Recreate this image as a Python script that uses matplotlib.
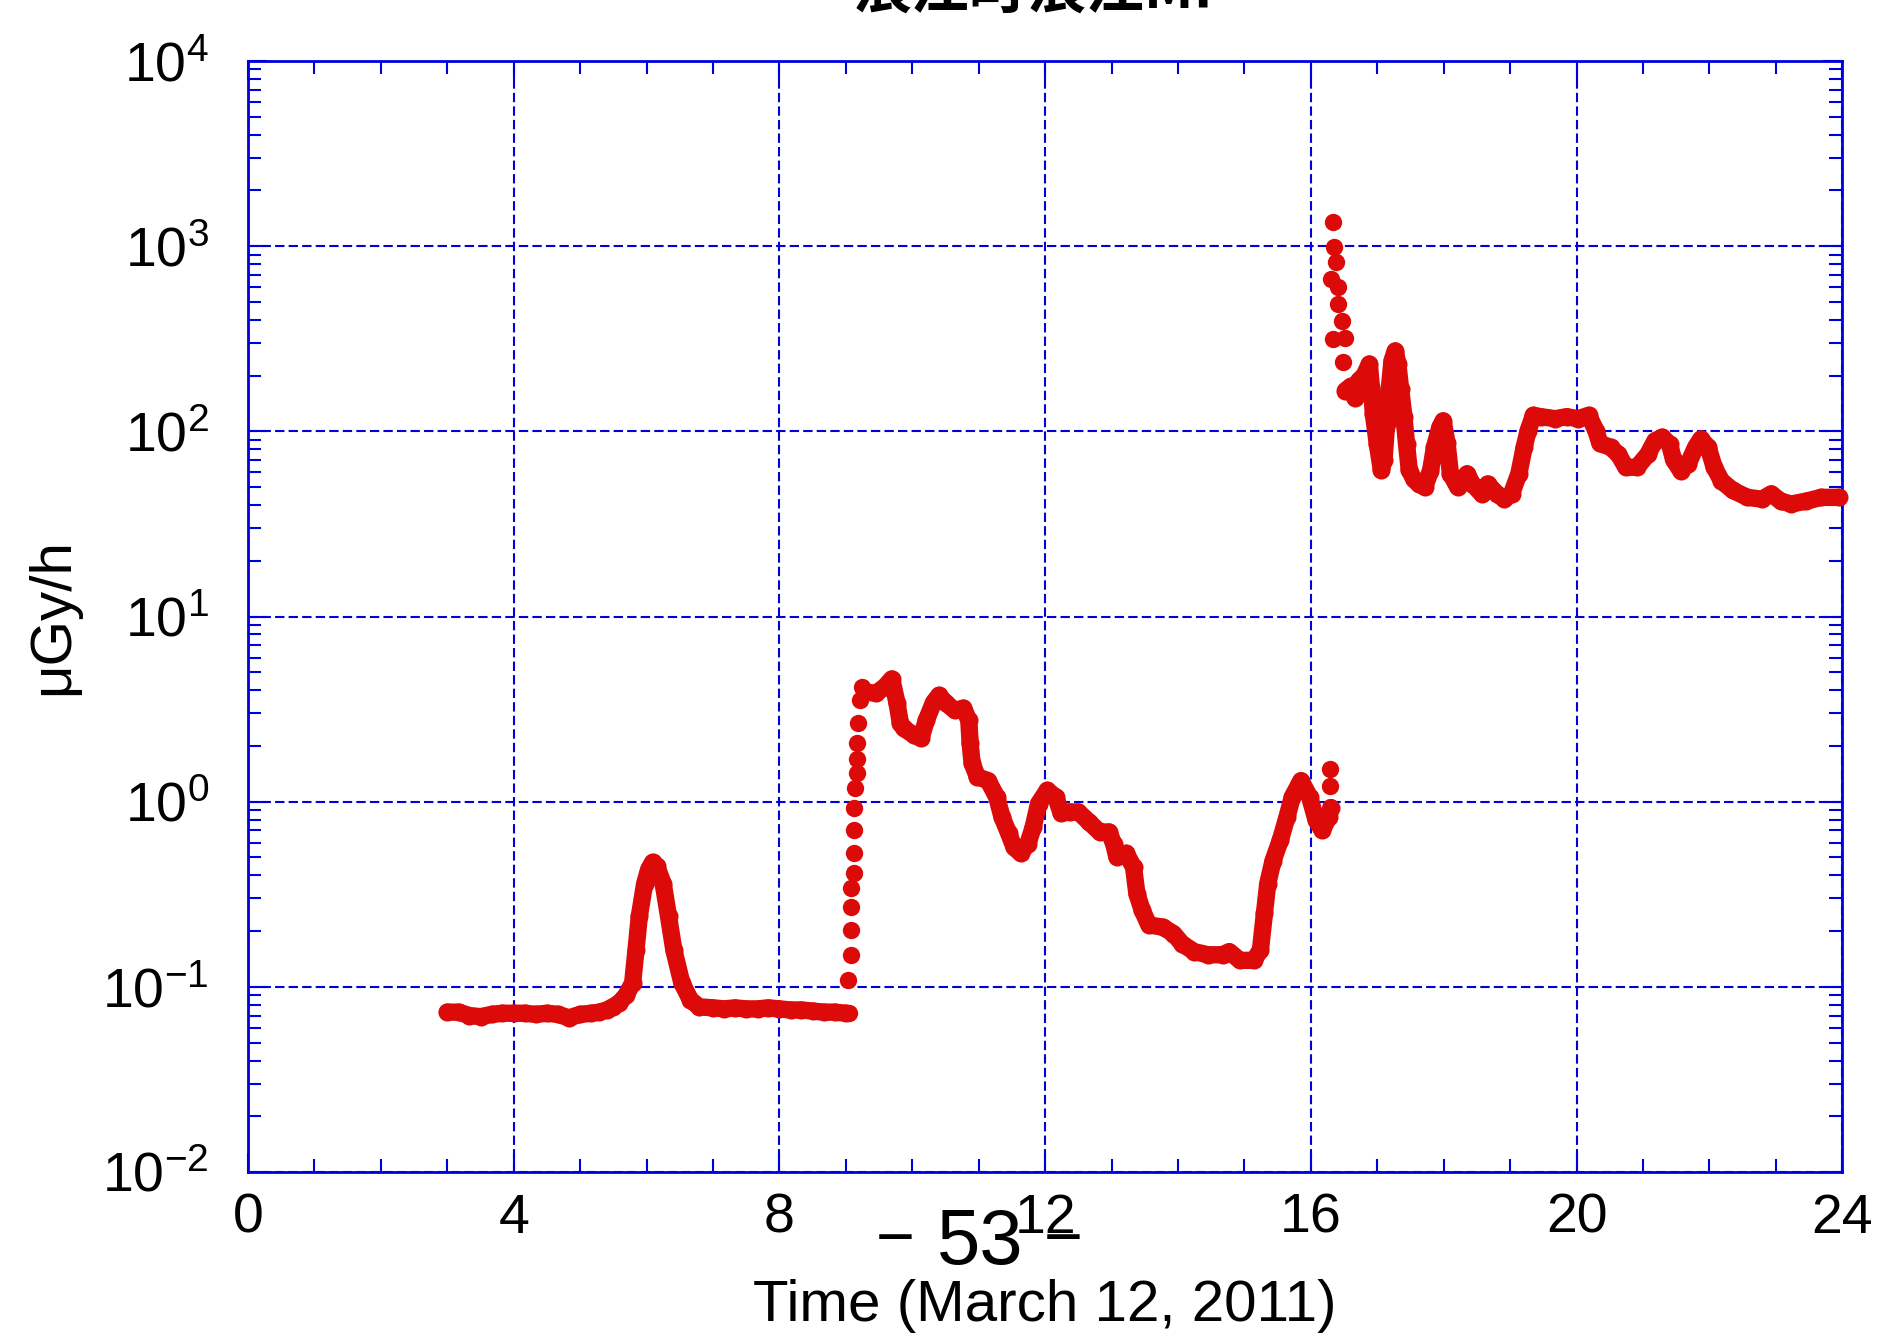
import matplotlib
matplotlib.use('Agg')
import numpy as np
import matplotlib.pyplot as plt
from matplotlib.ticker import MultipleLocator, LogLocator, NullFormatter

# 浪江町 MP, 2011-03-12 readings (hour, uGy/h)
base_t = [3.00, 3.17, 3.33, 3.50, 3.67, 3.83, 4.00, 4.17, 4.33, 4.50, 4.67, 4.83,
          5.00, 5.17, 5.29, 5.40, 5.49, 5.59, 5.69, 5.79, 5.84, 5.89, 5.97, 6.03,
          6.09, 6.15, 6.25, 6.33, 6.41, 6.53, 6.66, 6.79, 7.00, 7.17, 7.33, 7.50,
          7.67, 7.83, 8.00, 8.17, 8.33, 8.50, 8.67, 8.83, 9.00]
base_v = [0.073, 0.073, 0.070, 0.069, 0.071, 0.072, 0.072, 0.072, 0.071, 0.072,
          0.071, 0.068, 0.071, 0.072, 0.073, 0.075, 0.078, 0.082, 0.090, 0.105,
          0.158, 0.24, 0.36, 0.43, 0.47, 0.45, 0.36, 0.24, 0.158, 0.105, 0.085,
          0.078, 0.077, 0.076, 0.077, 0.076, 0.076, 0.077, 0.076, 0.075, 0.075,
          0.074, 0.073, 0.073, 0.072]

rise_t = [9.04, 9.03, 9.07, 9.08, 9.08, 9.08, 9.12, 9.12, 9.12, 9.12, 9.13, 9.16,
          9.16, 9.16, 9.18, 9.21, 9.24]
rise_v = [0.072, 0.109, 0.148, 0.202, 0.269, 0.341, 0.41, 0.526, 0.70, 0.93,
          1.19, 1.42, 1.71, 2.07, 2.65, 3.52, 4.14]

main_t = [9.29, 9.45, 9.58, 9.69, 9.77, 9.82, 9.87, 10.03, 10.13, 10.21, 10.32,
          10.40, 10.51, 10.64, 10.77, 10.85, 10.87, 10.90, 10.98, 11.14, 11.27,
          11.35, 11.45, 11.53, 11.63, 11.74, 11.82, 11.90, 12.03, 12.16, 12.24,
          12.37, 12.50, 12.66, 12.82, 12.96, 13.03, 13.08, 13.22, 13.33, 13.38,
          13.46, 13.56, 13.77, 13.93, 14.06, 14.24, 14.45, 14.67, 14.77, 14.93,
          15.14, 15.24, 15.30, 15.35, 15.43, 15.54, 15.64, 15.72, 15.85, 15.98,
          16.08, 16.17, 16.27, 16.30]
main_v = [3.91, 3.85, 4.15, 4.6, 3.4, 2.65, 2.49, 2.28, 2.2, 2.75, 3.44,
          3.75, 3.4, 3.11, 3.2, 2.75, 2.07, 1.61, 1.36, 1.30, 1.06,
          0.826, 0.675, 0.569, 0.526, 0.593, 0.73, 0.976, 1.15, 1.06, 0.865,
          0.88, 0.88, 0.776, 0.686, 0.686, 0.593, 0.502, 0.526, 0.443, 0.319,
          0.259, 0.216, 0.21, 0.194, 0.171, 0.155, 0.149, 0.149, 0.155, 0.139,
          0.139, 0.158, 0.249, 0.361, 0.48, 0.62, 0.826, 1.06, 1.30, 1.06,
          0.792, 0.70, 0.826, 0.93]

tail_t = [16.28, 16.29]
tail_v = [1.22, 1.51]

spike_t = [16.33, 16.35, 16.38, 16.30, 16.41, 16.41, 16.47, 16.33, 16.52, 16.49]
spike_v = [1358, 984, 817, 664, 599, 487, 395, 315, 321, 236]

late_t = [16.52, 16.60, 16.66, 16.72, 16.80, 16.88, 16.91, 16.94, 17.00, 17.06,
          17.10, 17.14, 17.18, 17.22, 17.27, 17.31, 17.35, 17.40, 17.44, 17.48,
          17.55, 17.62, 17.71, 17.80, 17.86, 17.94, 17.99, 18.05, 18.10, 18.21,
          18.35, 18.43, 18.57, 18.66, 18.80, 18.91, 19.02, 19.13, 19.21, 19.27,
          19.35, 19.46, 19.68, 19.85, 20.02, 20.18, 20.29, 20.35, 20.51, 20.63,
          20.74, 20.91, 21.07, 21.18, 21.29, 21.40, 21.46, 21.57, 21.68, 21.79,
          21.87, 21.98, 22.07, 22.18, 22.35, 22.57, 22.79, 22.93, 23.07, 23.23,
          23.46, 23.68, 23.95]
late_v = [166, 175, 152, 188, 200, 231, 173, 124, 85, 62,
          70, 110, 170, 240, 272, 230, 170, 120, 85, 62,
          55, 52, 50, 61, 82, 105, 114, 86, 59, 50,
          59, 52, 46, 52, 46, 43, 46, 59, 82, 101,
          122, 120, 117, 120, 117, 122, 101, 86, 82, 75,
          64, 64, 75, 89, 93, 85, 70, 61, 67, 82,
          91, 82, 64, 54, 48, 44, 43, 46, 42, 40.5,
          42, 44, 44]

blue = '#0000dd'
red = '#dd0a0a'

plt.rcParams['font.family'] = ['Liberation Sans', 'DejaVu Sans']
plt.rcParams['mathtext.default'] = 'regular'
plt.rcParams['axes.unicode_minus'] = False

fig = plt.figure(figsize=(18.79, 13.35), dpi=100)
ax = fig.add_axes([0.1320, 0.1221, 0.8485, 0.8322])

band = dict(color=red, lw=12.5, marker='o', ms=13, mew=0,
            solid_capstyle='round', solid_joinstyle='round', zorder=3)
dots = dict(color=red, ls='none', marker='o', ms=12.5, mew=0, zorder=3)

ax.plot(base_t, base_v, **band)
ax.plot(rise_t, rise_v, **dots)
ax.plot(main_t, main_v, **band)
ax.plot(tail_t, tail_v, **dots)
ax.plot(spike_t, spike_v, **dots)
ax.plot(late_t, late_v, clip_on=False, **band)

ax.set_yscale('log')
ax.set_xlim(0, 24)
ax.set_ylim(1e-2, 1e4)
ax.xaxis.set_major_locator(MultipleLocator(4))
ax.xaxis.set_minor_locator(MultipleLocator(1))
ax.yaxis.set_major_locator(LogLocator(base=10, numticks=20))
ax.yaxis.set_minor_locator(LogLocator(base=10, subs=np.arange(2, 10), numticks=20))
ax.yaxis.set_minor_formatter(NullFormatter())

ax.grid(True, which='major', color=blue, linestyle=(0, (4.5, 2)), linewidth=1.5)
for s in ax.spines.values():
    s.set_color(blue)
    s.set_linewidth(2)

ax.tick_params(which='both', direction='in', top=True, right=True,
               color=blue, width=1.5)
ax.tick_params(which='major', length=14)
ax.tick_params(which='minor', length=9.5)
ax.tick_params(axis='x', labelsize=40, pad=15)
ax.tick_params(axis='y', labelsize=40, pad=28)

ax.set_ylabel('μGy/h', fontsize=42, va='center')
ax.yaxis.set_label_coords(-0.122, 0.5)
ax.set_xlabel('Time (March 12, 2011)', fontsize=42, va='top')
ax.xaxis.set_label_coords(0.5, -0.0963)

# title is cut off at the top of the page
fig.text(0.555, 0.9933, '浪江町浪江MP', fontsize=42, fontweight='bold',
         ha='center', va='baseline', family=['Noto Sans CJK JP', 'DejaVu Sans'])
# page number overprinted on the axis
fig.text(0.5216, 0.0685, '53', fontsize=56, ha='center', va='center')
fig.text(0.4763, 0.0700, '\u2212', fontsize=48, ha='center', va='center')
fig.text(0.5657, 0.0700, '\u2212', fontsize=48, ha='center', va='center')

fig.savefig('out.png', dpi=100)
